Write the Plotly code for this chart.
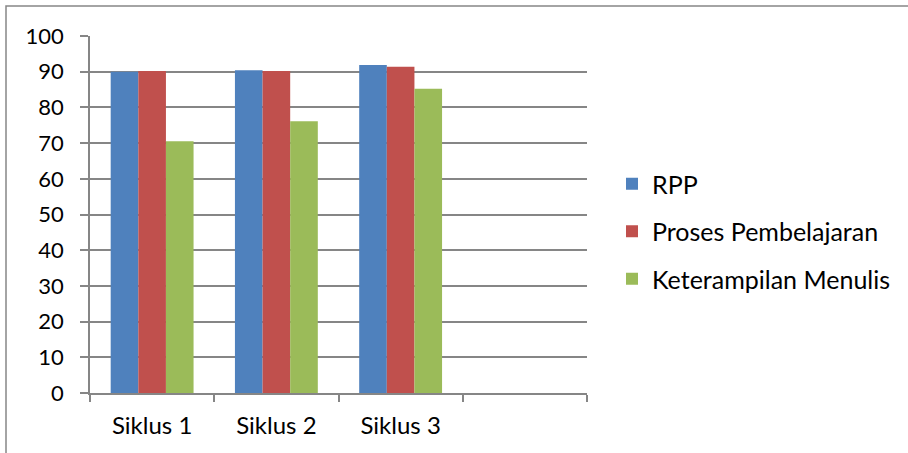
import plotly.graph_objects as go

categories = ["Siklus 1", "Siklus 2", "Siklus 3"]
slots = ["Siklus 1", "Siklus 2", "Siklus 3", " "]
series_names = ["RPP", "Proses Pembelajaran", "Keterampilan Menulis"]
rpp = [90.0, 90.4, 91.9]
proses = [90.2, 90.2, 91.4]
keterampilan = [70.5, 76.1, 85.2]
colors = ["#4F81BD", "#C0504D", "#9BBB59"]
y_ticks = [0, 10, 20, 30, 40, 50, 60, 70, 80, 90, 100]

FONT = "Lato"
fig = go.Figure()
for name, vals, col in zip(series_names, [rpp, proses, keterampilan], colors):
    fig.add_trace(go.Bar(x=categories, y=vals, name=name, marker_color=col,
                         marker_line_width=0, legendgroup=name))

W, H = 908, 453
L, T = 90, 36
R = W - 587
B = H - 393
pw, ph = W - L - R, H - T - B

def px_x(x):
    return (x - L) / pw

def px_y(y):
    return (393 - y) / ph

fig.update_layout(
    width=W, height=H,
    margin=dict(l=L, r=R, t=T, b=B, pad=0),
    paper_bgcolor="white", plot_bgcolor="white",
    barmode="group", bargap=0.333, bargroupgap=0,
    font=dict(family=FONT, size=25, color="black"),
    showlegend=True,
    legend=dict(x=px_x(612), y=px_y(161), xanchor="left", yanchor="top",
                tracegroupgap=12, font=dict(family=FONT, size=25),
                itemwidth=30, bgcolor="rgba(0,0,0,0)"),
    xaxis=dict(type="category", categoryorder="array", categoryarray=slots,
               range=[-0.5, 3.5], tickson="boundaries", ticks="outside", ticklen=7,
               tickcolor="#868686", tickwidth=1.5, showline=True, linecolor="#868686",
               linewidth=1.5, showgrid=False, ticklabelstandoff=10,
               tickfont=dict(family=FONT, size=24)),
    yaxis=dict(range=[0, 100], tickvals=y_ticks, ticks="outside", ticklen=8,
               tickcolor="#868686", tickwidth=1.5, showline=True, linecolor="#868686",
               linewidth=1.5, showgrid=True, gridcolor="#868686", gridwidth=1.5,
               zeroline=False, ticklabelstandoff=12,
               tickfont=dict(family=FONT, size=22)),
    shapes=[dict(type="rect", xref="paper", yref="paper",
                 x0=px_x(6), x1=px_x(920),
                 y0=px_y(470), y1=px_y(6),
                 line=dict(color="#868686", width=1.5), layer="below")],
)

fig.write_html("out.html", config={"displayModeBar": False},
               post_script="document.body.style.margin='0px';document.body.style.overflow='hidden';")
